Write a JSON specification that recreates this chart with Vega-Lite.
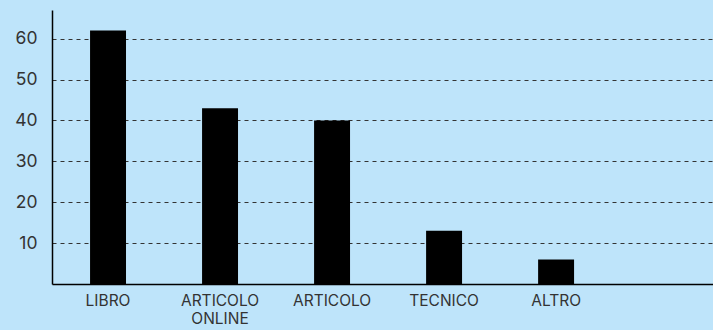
{
  "$schema": "https://vega.github.io/schema/vega-lite/v6.json",
  "width": 661,
  "height": 274,
  "autosize": {"type": "none"},
  "padding": {"left": 52, "top": 10, "right": 0, "bottom": 46},
  "background": "#bee4fa",
  "config": {"view": {"stroke": null}, "font": "Inter"},
  "data": {"values": [
    {"categoria": "LIBRO", "valore": 62},
    {"categoria": "ARTICOLO ONLINE", "valore": 43},
    {"categoria": "ARTICOLO", "valore": 40},
    {"categoria": "TECNICO", "valore": 13},
    {"categoria": "ALTRO", "valore": 6}
  ]},
  "mark": {"type": "bar", "color": "#000000"},
  "encoding": {
    "x": {
      "field": "categoria", "type": "nominal", "sort": null,
      "scale": {"paddingInner": 0.679, "paddingOuter": 0.79, "align": 0.215},
      "axis": {
        "title": null, "labelAngle": 0, "ticks": false, "domainColor": "#000000", "domainWidth": 1.5,
        "labelColor": "#333333", "labelFontSize": 15.5, "labelPadding": 9, "labelLineHeight": 18,
        "labelExpr": "split(datum.label, ' ')"
      }
    },
    "y": {
      "field": "valore", "type": "quantitative",
      "scale": {"domain": [0, 67], "nice": false},
      "axis": {
        "title": null, "values": [10, 20, 30, 40, 50, 60], "ticks": false,
        "domainColor": "#000000", "domainWidth": 1.5,
        "labelColor": "#333333", "labelFontSize": 17.5, "labelPadding": 15,
        "gridColor": "#333333", "gridDash": [4, 4], "gridWidth": 1
      }
    }
  }
}
